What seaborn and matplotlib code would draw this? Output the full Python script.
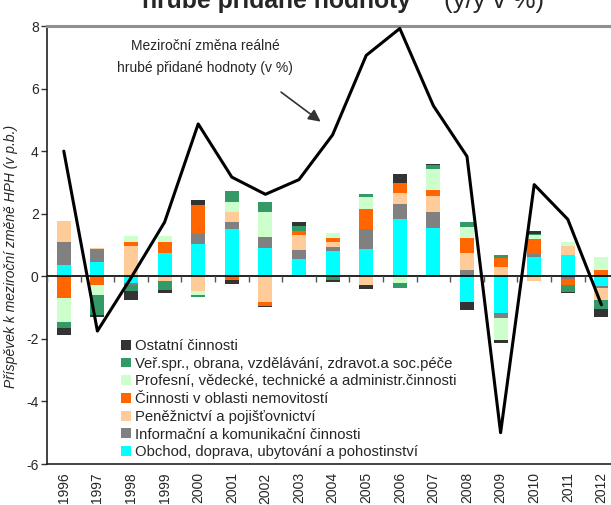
import numpy as np
import matplotlib
matplotlib.use("Agg")
import matplotlib.pyplot as plt
import seaborn as sns

years = [str(y) for y in range(1996, 2013)]

# year-on-year change of real GVA (%)
hph = [4.0, -1.75, -0.05, 1.73, 4.87, 3.17, 2.62, 3.09, 4.52, 7.06, 7.92, 5.45, 3.83, -5.0, 2.93, 1.82, -0.91]

# contributions of branches (p.b.)
obchod = [0.35, 0.45, -0.23, 0.73, 1.02, 1.50, 0.89, 0.54, 0.80, 0.86, 1.82, 1.53, -0.83, -1.17, 0.61, 0.67, -0.32]
informacni = [0.73, 0.41, -0.06, 0.0, 0.32, 0.22, 0.35, 0.29, 0.13, 0.64, 0.48, 0.51, 0.19, -0.17, 0.10, -0.10, -0.06]
penezni = [0.70, 0.06, 0.96, -0.16, -0.48, 0.32, -0.83, 0.48, 0.16, -0.29, 0.35, 0.54, 0.54, 0.29, -0.16, 0.29, -0.38]
nemovitosti = [-0.69, -0.29, 0.13, 0.35, 0.93, -0.12, -0.13, 0.13, 0.13, 0.64, 0.32, 0.19, 0.48, 0.29, 0.48, -0.19, 0.19]
profesni = [-0.78, -0.32, 0.19, 0.22, -0.12, 0.35, 0.80, -0.03, 0.16, 0.38, -0.22, 0.67, 0.35, -0.70, 0.13, 0.13, 0.42]
verspr = [-0.19, -0.64, -0.18, -0.29, -0.06, 0.35, 0.32, 0.16, -0.13, 0.10, -0.16, 0.13, 0.16, 0.10, 0.02, -0.22, -0.29]
ostatni = [-0.21, -0.05, -0.29, -0.10, 0.16, -0.13, -0.02, 0.13, -0.06, -0.13, 0.29, 0.03, -0.26, -0.09, 0.10, -0.03, -0.26]

series = [
    ("Obchod, doprava, ubytování a pohostinství", obchod, "#00FFFF"),
    ("Informační a komunikační činnosti", informacni, "#808080"),
    ("Peněžnictví a pojišťovnictví", penezni, "#FFCC99"),
    ("Činnosti v oblasti nemovitostí", nemovitosti, "#FF6600"),
    ("Profesní, vědecké, technické a administr.činnosti", profesni, "#CCFFCC"),
    ("Veř.spr., obrana, vzdělávání, zdravot.a soc.péče", verspr, "#339966"),
    ("Ostatní činnosti", ostatni, "#333333"),
]

sns.set_style("white")
plt.rcParams['font.family'] = ['Liberation Sans', 'DejaVu Sans']
plt.rcParams['axes.unicode_minus'] = False

fig = plt.figure(figsize=(6.11, 5.05), dpi=100)
ax = fig.add_axes([47 / 611, 41 / 505, 571.2 / 611, 438 / 505])

x = np.arange(len(years))
pos_base = np.zeros(len(years))
neg_base = np.zeros(len(years))
handles = []
for name, vals, col in series:
    v = np.array(vals)
    b = np.where(v >= 0, pos_base, neg_base)
    h = ax.bar(x, v, width=0.42, bottom=b, color=col, linewidth=0, label=name)
    handles.append(h)
    pos_base += np.where(v >= 0, v, 0)
    neg_base += np.where(v < 0, v, 0)

ax.axhline(0, color='black', lw=1.2, zorder=3)
bounds = np.arange(-0.5, len(years))
ax.plot(bounds, np.zeros(len(bounds)), ls='none', marker=3, markersize=4,
        color='#555555', zorder=3)

sns.lineplot(x=x, y=hph, color='black', lw=2.2, ax=ax, zorder=4)

ax.set_xlim(-0.5, len(years) - 0.5)
ax.set_ylim(-6, 8)
ax.set_yticks(range(-6, 9, 2))
ax.set_xticks(x)
ax.set_xticklabels(years, rotation=90, fontsize=10)
ax.tick_params(axis='x', length=0, pad=6)
ax.tick_params(axis='y', length=4, width=1, color='#333333', labelsize=10, left=True, pad=2)

for s in ['left', 'bottom']:
    ax.spines[s].set_color('#222222')
    ax.spines[s].set_linewidth(1.2)
ax.spines['top'].set_color('#909090')
ax.spines['top'].set_linewidth(2.2)
ax.spines['right'].set_visible(False)

ax.set_ylabel("Příspěvek k meziroční změně HPH (v p.b.)", fontsize=10, style='italic')
ax.yaxis.set_label_coords(-0.051, 0.475)

ax.text(0.277, 0.929, "Meziroční změna reálné\nhrubé přidané hodnoty (v %)",
        transform=ax.transAxes, ha='center', va='center', fontsize=10, linespacing=1.8)
ax.annotate('', xy=(7.71, 4.89), xytext=(6.40, 5.94),
            arrowprops=dict(arrowstyle='-|>', color='#333333', lw=1.2, mutation_scale=18))

ax.legend(handles=handles[::-1], loc='lower left', bbox_to_anchor=(0.125, 0.004),
          frameon=False, fontsize=10.7, handlelength=0.65, handleheight=0.65,
          handletextpad=0.3, labelspacing=0.25, borderpad=0.2, borderaxespad=0)

fig.text(423 / 611, 1 - 8 / 505, "hrubé přidané hodnoty“", ha='right', va='baseline',
         fontsize=17.8, fontweight='bold')
fig.text(444 / 611, 1 - 8 / 505, "(y/y v %)", ha='left', va='baseline', fontsize=18.5)

fig.savefig("out.png", dpi=100)
